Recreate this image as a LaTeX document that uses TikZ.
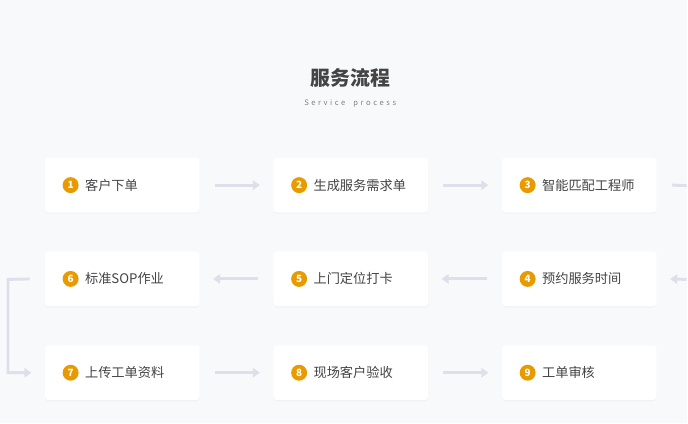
\documentclass[tikz,border=0pt]{standalone}
\usepackage{fontspec}
\setmainfont{Noto Sans CJK SC}
\usetikzlibrary{arrows.meta,shadows}
\definecolor{bg}{HTML}{F8F9FA}
\definecolor{badge}{HTML}{E89B00}
\definecolor{flow}{HTML}{DDE0EA}
\definecolor{ink}{HTML}{444444}

\begin{document}
\begin{tikzpicture}[x=0.03cm, y=-0.03cm]
        \tikzset{stepbox/.style={fill=white, rounded corners=3pt, minimum width=4.65cm, minimum height=1.65cm,
                 drop shadow={shadow xshift=0pt, shadow yshift=-1pt, opacity=0.06}},
                 flowline/.style={draw=flow, line width=2.5pt, -{Triangle[width=8pt,length=6pt]}}}
        \fill[bg] (0,0) rectangle (688,424);

        \node[font=\bfseries\fontsize{17}{20}\selectfont, text=ink] (T) at (351,78) {服务流程};
        \node[font=\fontsize{6.5}{7}\selectfont, text=gray] (U) at (351,104) {S\,\,e\,\,r\,\,v\,\,i\,\,c\,\,e\;\;\; p\,\,r\,\,o\,\,c\,\,e\,\,s\,\,s};

        % boxes: number, x, y, label
        \foreach \n/\x/\y/\t in {1/122.5/185.5/客户下单, 2/351.5/185.5/生成服务需求单, 3/580.5/185.5/智能匹配工程师,
                                 4/580.5/279.5/预约服务时间, 5/351.5/279.5/上门定位打卡, 6/122.5/279.5/标准SOP作业,
                                 7/122.5/373.5/上传工单资料, 8/351.5/373.5/现场客户验收, 9/580.5/373.5/工单审核} {
            \node[stepbox] (S\n) at (\x,\y) {};
            \node[circle, fill=badge, text=white, inner sep=0pt, minimum size=0.48cm,
                  font=\bfseries\fontsize{8.5}{8.5}\selectfont] (B\n) at ([xshift=0.78cm]S\n.west) {\n};
            \node[anchor=west, text=ink, font=\fontsize{11.3}{13}\selectfont, inner sep=0pt] (L\n) at ([xshift=0.18cm]B\n.east) {\t};
        }

        \coordinate (R1) at (688,186);
        \coordinate (R2) at (688,280);
        \coordinate (K1) at (8,280);
        \coordinate (K2) at (8,373.5);

        \draw[flowline] ([xshift=0.45cm]S1.east) -- ([xshift=-0.4cm]S2.west);
        \draw[flowline] ([xshift=0.45cm]S2.east) -- ([xshift=-0.4cm]S3.west);
        \draw[draw=flow, line width=2.5pt] ([xshift=0.45cm]S3.east) -- (R1);
        \draw[flowline] (R2) -- ([xshift=0.4cm]S4.east);
        \draw[flowline] ([xshift=-0.45cm]S4.west) -- ([xshift=0.4cm]S5.east);
        \draw[flowline] ([xshift=-0.45cm]S5.west) -- ([xshift=0.4cm]S6.east);
        \draw[flowline] ([xshift=-0.45cm]S6.west) -- (K1) -- (K2) -- ([xshift=-0.4cm]S7.west);
        \draw[flowline] ([xshift=0.45cm]S7.east) -- ([xshift=-0.4cm]S8.west);
        \draw[flowline] ([xshift=0.45cm]S8.east) -- ([xshift=-0.4cm]S9.west);
\end{tikzpicture}
\end{document}
